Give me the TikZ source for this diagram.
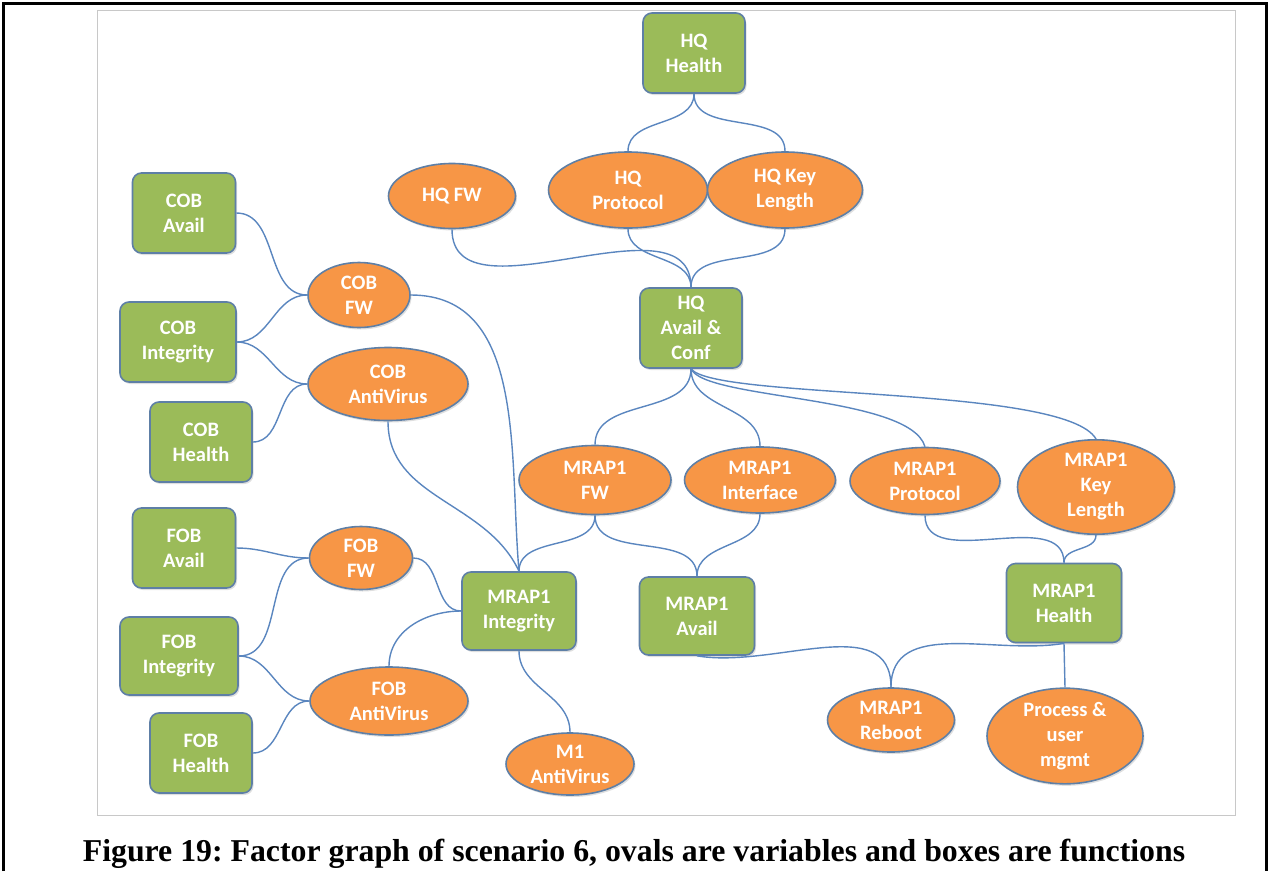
\documentclass[tikz,border=0pt]{standalone}
\usepackage{fontspec}
\setmainfont{Liberation Serif}
\newfontfamily\labelfont{Carlito}
\usetikzlibrary{shapes.geometric,shadows}
\definecolor{fngreen}{HTML}{9BBB59}
\definecolor{varorange}{HTML}{F79646}
\definecolor{shapeedge}{HTML}{5E7FA6}
\definecolor{linkblue}{HTML}{5A86BF}
\definecolor{framegray}{HTML}{C8C8C8}
\tikzset{
  fnbox/.style={draw=shapeedge, line width=1.6pt, fill=fngreen, rounded corners=9pt,
    minimum width=102pt, minimum height=80pt, inner sep=0pt, align=center,
    text=white, font=\labelfont\bfseries\fontsize{20.5}{25}\selectfont,
    drop shadow={shadow xshift=1.5pt, shadow yshift=-2pt, opacity=0.25}},
  varoval/.style={ellipse, draw=shapeedge, line width=1.6pt, fill=varorange,
    inner sep=0pt, align=center, text=white,
    font=\labelfont\bfseries\fontsize{20.5}{25}\selectfont,
    drop shadow={shadow xshift=1.5pt, shadow yshift=-2pt, opacity=0.25}},
  link/.style={draw=linkblue, line width=1.4pt},
  vlink/.style={out=-90, in=90},
  hlink/.style={out=0, in=180},
}
\begin{document}
\frenchspacing
\begin{tikzpicture}[x=1pt, y=-1pt]
\useasboundingbox (0,0) rectangle (1270,871);
% page frame and figure frame
\draw[line width=3pt] (3,871) -- (3,3) -- (1266,3) -- (1266,871);
\draw[framegray, line width=1pt] (97,10) rectangle (1235,815);

% function boxes
\node[fnbox] (hqh) at (694,53) {HQ\\Health};
\node[fnbox] (hqa) at (691,328) {HQ\\Avail \&\\Conf};
\node[fnbox, minimum width=103pt] (coba) at (184,213) {COB\\Avail};
\node[fnbox, minimum width=116pt] (cobi) at (178,342) {COB\\Integrity};
\node[fnbox] (cobh) at (201,442) {COB\\Health};
\node[fnbox, minimum width=103pt] (foba) at (184,548) {FOB\\Avail};
\node[fnbox, minimum width=118pt, minimum height=78pt] (fobi) at (179,656) {FOB\\Integrity};
\node[fnbox] (fobh) at (201,753) {FOB\\Health};
\node[fnbox, minimum width=114pt, minimum height=78pt] (mi) at (519,611) {MRAP1\\Integrity};
\node[fnbox, minimum width=115pt, minimum height=78pt] (ma) at (697,616) {MRAP1\\Avail};
\node[fnbox, minimum width=115pt, minimum height=79pt] (mh) at (1064,603) {MRAP1\\Health};

% variable ovals
\node[varoval, minimum width=127pt, minimum height=65pt] (hqfw) at (452,196) {HQ FW};
\node[varoval, minimum width=159pt, minimum height=76pt] (hqp) at (628,190) {HQ\\Protocol};
\node[varoval, minimum width=155pt, minimum height=76pt] (hqk) at (785,190) {HQ Key\\Length};
\node[varoval, minimum width=102pt, minimum height=65pt] (cobfw) at (359,295) {COB\\FW};
\node[varoval, minimum width=160pt, minimum height=73pt] (cobav) at (388,384) {COB\\AntiVirus};
\node[varoval, minimum width=103pt, minimum height=63pt] (fobfw) at (361,558) {FOB\\FW};
\node[varoval, minimum width=158pt, minimum height=68pt] (fobav) at (389,701) {FOB\\AntiVirus};
\node[varoval, minimum width=152pt, minimum height=69pt] (mfw) at (595,480) {MRAP1\\FW};
\node[varoval, minimum width=151pt, minimum height=66pt] (mif) at (760,480) {MRAP1\\Interface};
\node[varoval, minimum width=150pt, minimum height=67pt] (mp) at (925,481) {MRAP1\\Protocol};
\node[varoval, minimum width=157pt, minimum height=85pt] (mk) at (1096,487) {MRAP1\\Key\\Length};
\node[varoval, minimum width=128pt, minimum height=62pt] (m1av) at (570,764) {M1\\AntiVirus};
\node[varoval, minimum width=127pt, minimum height=64pt] (mr) at (891,720) {MRAP1\\Reboot};
\node[varoval, minimum width=156pt, minimum height=92pt] (pum) at (1065,736) {Process \&\\user\\mgmt};

% HQ links
\draw[link] (hqh.south) to[vlink] (hqp.north);
\draw[link] (hqh.south) to[vlink] (hqk.north);
\draw[link] (hqp.south) to[vlink] (hqa.north);
\draw[link] (hqk.south) to[vlink] (hqa.north);
\draw[link] (hqfw.south) to[vlink] (hqa.north);
\draw[link] (hqa.south) to[vlink] (mfw.north);
\draw[link] (hqa.south) to[vlink] (mif.north);
\draw[link] (hqa.south) .. controls (705,400) and (910,395) .. (mp.north);
\draw[link] (hqa.south) .. controls (715,400) and (1065,385) .. (mk.north);

% COB links
\draw[link] (coba.east) to[hlink] (cobfw.west);
\draw[link] (cobi.east) to[hlink] (cobfw.west);
\draw[link] (cobi.east) to[hlink] (cobav.west);
\draw[link] (cobh.east) to[hlink] (cobav.west);
\draw[link] (cobfw.east) to[out=0, in=95] (mi.north);
\draw[link] (cobav.south) to[out=-90, in=115] (mi.north);

% FOB links
\draw[link] (foba.east) to[hlink] (fobfw.west);
\draw[link] (fobi.east) to[hlink] (fobfw.west);
\draw[link] (fobi.east) to[hlink] (fobav.west);
\draw[link] (fobh.east) to[hlink] (fobav.west);
\draw[link] (fobfw.east) to[hlink] (mi.west);
\draw[link] (fobav.north) to[out=90, in=180] (mi.west);

% MRAP1 links
\draw[link] (mfw.south) to[vlink] (mi.north);
\draw[link] (mfw.south) to[vlink] (ma.north);
\draw[link] (mif.south) to[vlink] (ma.north);
\draw[link] (mp.south) to[vlink] (mh.north);
\draw[link] (mk.south) to[vlink] (mh.north);
\draw[link] (mi.south) to[vlink] (m1av.north);
\draw[link] (ma.south) to[out=-10, in=90] (mr.north);
\draw[link] (mh.south) to[out=190, in=90] (mr.north);
\draw[link] (mh.south) -- (pum.north);

% caption
\node[font=\bfseries\fontsize{31.8}{34}\selectfont, anchor=base, inner sep=0pt] (cap) at (634,861)
  {Figure 19: Factor graph of scenario 6, ovals are variables and boxes are functions};
\end{tikzpicture}
\end{document}
